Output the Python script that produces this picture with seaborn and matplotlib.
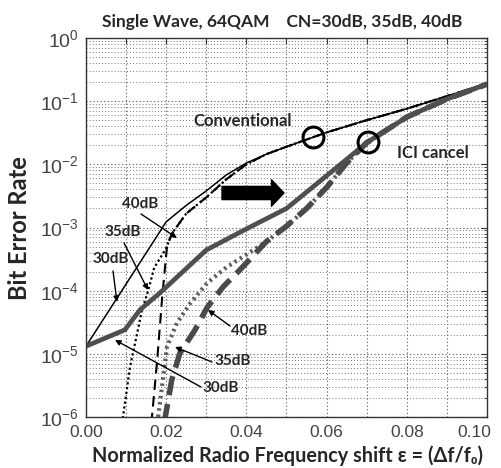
import numpy as np
import pandas as pd
import matplotlib
matplotlib.use("Agg")
import matplotlib.pyplot as plt
import matplotlib.transforms as mtrans
import seaborn as sns
from matplotlib.ticker import FixedLocator, LogLocator, NullFormatter

# ---------------- data ----------------
conv30_x = [0.0, 0.02, 0.025, 0.03, 0.035, 0.04, 0.045, 0.05, 0.06, 0.07, 0.08, 0.09, 0.10]
conv30_y = [1.32e-5, 1.23e-3, 2.24e-3, 3.8e-3, 6.8e-3, 1.05e-2, 1.45e-2, 1.9e-2, 3.2e-2, 5.0e-2, 7.6e-2, 0.12, 0.19]

conv35_x = [0.0090, 0.011, 0.014, 0.0155, 0.0170, 0.020, 0.0214, 0.025, 0.03, 0.035, 0.04, 0.045, 0.05, 0.06, 0.07, 0.08, 0.09, 0.10]
conv35_y = [8e-7, 6.3e-6, 5.0e-5, 1.0e-4, 2.3e-4, 4.7e-4, 8.0e-4, 1.66e-3, 3.0e-3, 5.8e-3, 1.0e-2, 1.45e-2, 1.9e-2, 3.2e-2, 5.0e-2, 7.6e-2, 0.12, 0.19]

conv40_x = [0.0163, 0.0177, 0.019, 0.0202, 0.0214, 0.025, 0.03, 0.035, 0.04, 0.045, 0.05, 0.06, 0.07, 0.08, 0.09, 0.10]
conv40_y = [8e-7, 7.2e-6, 7.9e-5, 5.0e-4, 8.0e-4, 1.66e-3, 3.0e-3, 5.8e-3, 1.0e-2, 1.45e-2, 1.9e-2, 3.2e-2, 5.0e-2, 7.6e-2, 0.12, 0.19]

ici30_x = [0.0, 0.0097, 0.0135, 0.0185, 0.03, 0.04, 0.05, 0.06, 0.065, 0.07, 0.08, 0.09, 0.10]
ici30_y = [1.32e-5, 2.4e-5, 5.0e-5, 9.3e-5, 4.4e-4, 9.5e-4, 2.0e-3, 6.6e-3, 1.2e-2, 2.2e-2, 5.6e-2, 0.108, 0.186]

ici35_x = [0.0178, 0.0202, 0.0227, 0.026, 0.0302, 0.035, 0.039, 0.045, 0.05, 0.055, 0.06, 0.065, 0.07, 0.08, 0.09, 0.10]
ici35_y = [8e-7, 1.3e-5, 3.1e-5, 6.3e-5, 1.32e-4, 2.34e-4, 3.4e-4, 6.0e-4, 1.05e-3, 2.0e-3, 4.3e-3, 1.05e-2, 2.2e-2, 5.6e-2, 0.108, 0.186]

ici40_x = [0.0195, 0.0214, 0.0234, 0.0272, 0.0302, 0.0342, 0.0384, 0.045, 0.05, 0.055, 0.06, 0.065, 0.07, 0.08, 0.09, 0.10]
ici40_y = [8e-7, 3.9e-6, 1.02e-5, 2.4e-5, 5.4e-5, 1.15e-4, 2.14e-4, 6.0e-4, 1.05e-3, 2.0e-3, 4.3e-3, 1.05e-2, 2.2e-2, 5.6e-2, 0.108, 0.186]

circle_x = [0.0566, 0.0703]   # highlighted points: on conventional / ICI cancel curves

xtick_vals = [0.00, 0.01, 0.02, 0.03, 0.04, 0.05, 0.06, 0.07, 0.08, 0.09, 0.10]
xtick_labels = ["0.00", "", "0.02", "", "0.04", "", "0.06", "", "0.08", "", "0.10"]

title_text = "Single Wave, 64QAM    CN=30dB, 35dB, 40dB"
xlabel_text = "Normalized Radio Frequency shift \u03b5 = (\u0394f/f\u2080)"
ylabel_text = "Bit Error Rate"

# ---------------- styling ----------------
sns.set_theme(style="white")
plt.rcParams["font.family"] = ["Liberation Sans", "DejaVu Sans"]
plt.rcParams["mathtext.fontset"] = "custom"
plt.rcParams["mathtext.rm"] = "Liberation Sans"
bold_family = ["Lato", "DejaVu Sans"]

fig = plt.figure(figsize=(5.02, 4.68), dpi=100)
ax = fig.add_axes([86/502, 1-417/468, (487-86)/502, (417-38)/468])

def frame(xs, ys, name):
    return pd.DataFrame({"x": xs, "y": ys, "s": name})

series = [
    (conv30_x, conv30_y, "conv30", dict(color="black", lw=1.1, ls="-")),
    (conv35_x, conv35_y, "conv35", dict(color="black", lw=1.6, ls=(0, (1, 1.2)))),
    (conv40_x, conv40_y, "conv40", dict(color="black", lw=1.5, ls=(0, (5, 3)))),
    (ici35_x, ici35_y, "ici35", dict(color="#5e5e5e", lw=3.0, ls=(0, (0.6, 0.9)))),
    (ici40_x, ici40_y, "ici40", dict(color="#4a4a4a", lw=4.0, ls=(0, (3.5, 1.6)))),
    (ici30_x, ici30_y, "ici30", dict(color="#4f4f4f", lw=3.4, ls="-")),
]
for xs, ys, name, st in series:
    sns.lineplot(data=frame(xs, ys, name), x="x", y="y", ax=ax, estimator=None,
                 sort=False, color=st["color"], linewidth=st["lw"], linestyle=st["ls"],
                 legend=False)

ax.set_yscale("log")
ax.set_xlim(0, 0.1)
ax.set_ylim(1e-6, 1)

ax.xaxis.set_major_locator(FixedLocator(xtick_vals))
ax.set_xticklabels(xtick_labels)
ax.yaxis.set_major_locator(LogLocator(base=10, numticks=10))
ax.yaxis.set_minor_locator(LogLocator(base=10, subs=np.arange(2, 10), numticks=20))
ax.yaxis.set_minor_formatter(NullFormatter())

ax.grid(True, which="major", axis="both", color="#555555", linestyle=(0, (1, 2.2)), linewidth=0.8)
ax.grid(True, which="minor", axis="y", color="#777777", linestyle=(0, (1, 2.2)), linewidth=0.7)
ax.set_axisbelow(True)

ax.tick_params(axis="both", which="both", direction="in", top=True, right=True,
               colors="#333333", labelcolor="#444444")
ax.tick_params(axis="both", which="major", length=4, width=0.8)
ax.tick_params(axis="y", which="minor", length=2, width=0.6)
ax.tick_params(axis="x", labelsize=12.5, pad=6)
ax.tick_params(axis="y", labelsize=14, pad=5)
for sp in ax.spines.values():
    sp.set_color("#333333")
    sp.set_linewidth(1.0)

# nudge last x tick label inward so it stays inside the figure
xlabels = ax.get_xticklabels()
xlabels[-1].set_transform(xlabels[-1].get_transform() + mtrans.ScaledTranslation(-13/100, 0, fig.dpi_scale_trans))

ax.set_xlabel("")
ax.set_ylabel("")

fig.text(282/502, 1-22/468, title_text, ha="center", va="center", fontsize=12.5,
         fontweight="bold", family=bold_family)
fig.text(288/502, 1-456/468, xlabel_text, ha="center", va="center", fontsize=14.3,
         fontweight="bold", family=bold_family)
fig.text(20/502, 1-228/468, ylabel_text, ha="center", va="center", fontsize=17,
         fontweight="bold", family=bold_family, rotation=90)

def P(px, py):
    """pixel position in the reference -> data coords"""
    return ((px - 86) / 4010.0, 10 ** (-(py - 38) / 63.17))

lab = dict(fontsize=11, fontweight="bold", family=bold_family, ha="center", va="center")
ax.text(*P(243, 121), "Conventional", **{**lab, "fontsize": 12})
ax.text(*P(433, 153), "ICI cancel", **{**lab, "fontsize": 12})

arr = dict(arrowstyle="-|>", color="black", lw=1.0, mutation_scale=8, shrinkA=0, shrinkB=0)
notes = [
    ("40dB", (140, 204), (141, 214), (177, 238)),
    ("35dB", (123, 232), (124, 243), (148, 290)),
    ("30dB", (111, 259), (113, 271), (117, 302)),
    ("40dB", (249, 331), (230, 326), (208, 310)),
    ("35dB", (233, 361), (212, 362), (175, 347)),
    ("30dB", (221, 388), (201, 387), (115, 340)),
]
for t, tp, a0, a1 in notes:
    ax.text(*P(*tp), t, **lab)
    ax.annotate("", xy=P(*a1), xytext=P(*a0), xycoords="data", textcoords="data",
                arrowprops=arr)

# block arrow
ax.annotate("", xy=P(284, 193), xytext=P(222, 193), xycoords="data", textcoords="data",
            arrowprops=dict(arrowstyle="simple,head_length=0.9,head_width=1.9,tail_width=0.95",
                            color="black", mutation_scale=10, shrinkA=0, shrinkB=0))

# circles on curves
conv_circ_y = 10 ** np.interp(circle_x[0], conv30_x, np.log10(conv30_y))
ici_circ_y = 10 ** np.interp(circle_x[1], ici30_x, np.log10(ici30_y))
ax.plot([circle_x[0], circle_x[1]], [conv_circ_y, ici_circ_y], linestyle="none", marker="o",
        markersize=15, markerfacecolor="none", markeredgecolor="black", markeredgewidth=2.2)

fig.savefig("out.png", dpi=100, facecolor="white")
